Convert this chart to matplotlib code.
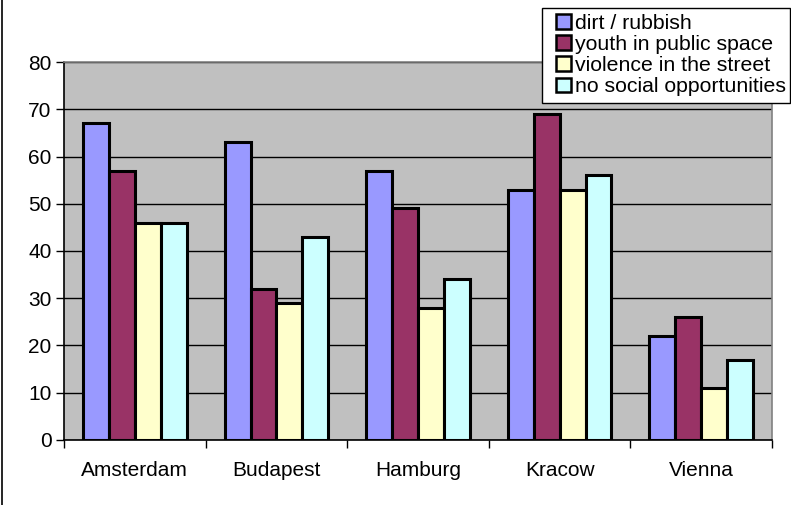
import numpy as np
import matplotlib.pyplot as plt
from matplotlib.lines import Line2D
from matplotlib.patches import Rectangle

plt.rcParams['font.family'] = ['Liberation Sans', 'DejaVu Sans']

cities = ['Amsterdam', 'Budapest', 'Hamburg', 'Kracow', 'Vienna']
dirt = [67, 63, 57, 53, 22]
youth = [57, 32, 49, 69, 26]
violence = [46, 29, 28, 53, 11]
no_social = [46, 43, 34, 56, 17]

series = [
    ('dirt / rubbish', dirt, '#9999FF'),
    ('youth in public space', youth, '#993366'),
    ('violence in the street', violence, '#FFFFCC'),
    ('no social opportunities', no_social, '#CCFFFF'),
]

W, H = 791, 505
fig = plt.figure(figsize=(W / 100, H / 100), dpi=100)
ax = fig.add_axes([0.081, 0.129, 0.895, 0.748])
ax.set_facecolor('#C0C0C0')

x = np.arange(len(cities))
w = 0.183
for i, (name, vals, col) in enumerate(series):
    ax.bar(x + (i - 1.5) * w, vals, w, color=col, edgecolor='black',
           linewidth=2.2, label=name, zorder=3)

ax.set_xlim(-0.5, len(cities) - 0.5)
ax.set_ylim(0, 80)
ax.set_yticks(range(0, 81, 10))
ax.yaxis.grid(True, color='black', linewidth=1, zorder=0)
ax.set_axisbelow(True)

# category labels between boundary ticks
ax.set_xticks(np.arange(-0.5, len(cities), 1))
ax.set_xticklabels([])
ax.set_xticks(x, minor=True)
ax.set_xticklabels(cities, minor=True, fontsize=15)
ax.tick_params(axis='x', which='minor', length=0, pad=15)
ax.tick_params(axis='x', which='major', length=6, width=1, direction='out')
ax.tick_params(axis='y', labelsize=15, length=6, width=1, direction='out', pad=3)

ax.spines['left'].set_color('black')
ax.spines['bottom'].set_color('black')
ax.spines['top'].set_color('#808080')
ax.spines['right'].set_color('#808080')
for s in ax.spines.values():
    s.set_linewidth(1.2)

# legend box (Excel style, wider padding on the left)
fig.add_artist(Rectangle((542 / W, 1 - 103 / H), (789.5 - 542) / W, 95 / H,
                         transform=fig.transFigure, facecolor='white',
                         edgecolor='black', linewidth=1, zorder=4))
handles, labels = ax.get_legend_handles_labels()
leg = fig.legend(handles, labels, loc='upper left',
                 bbox_to_anchor=(556 / W, 1 - 14 / H), fontsize=15.3,
                 frameon=False, handlelength=0.7, handleheight=0.7,
                 handletextpad=0.2, labelspacing=0.1, borderpad=0,
                 borderaxespad=0)
leg.set_zorder(5)
for h in leg.legend_handles:
    h.set_linewidth(1.8)

fig.add_artist(Line2D([0.003, 0.003], [0, 1], color='black', linewidth=1.2,
                      transform=fig.transFigure))

fig.savefig('out.png', dpi=100)
